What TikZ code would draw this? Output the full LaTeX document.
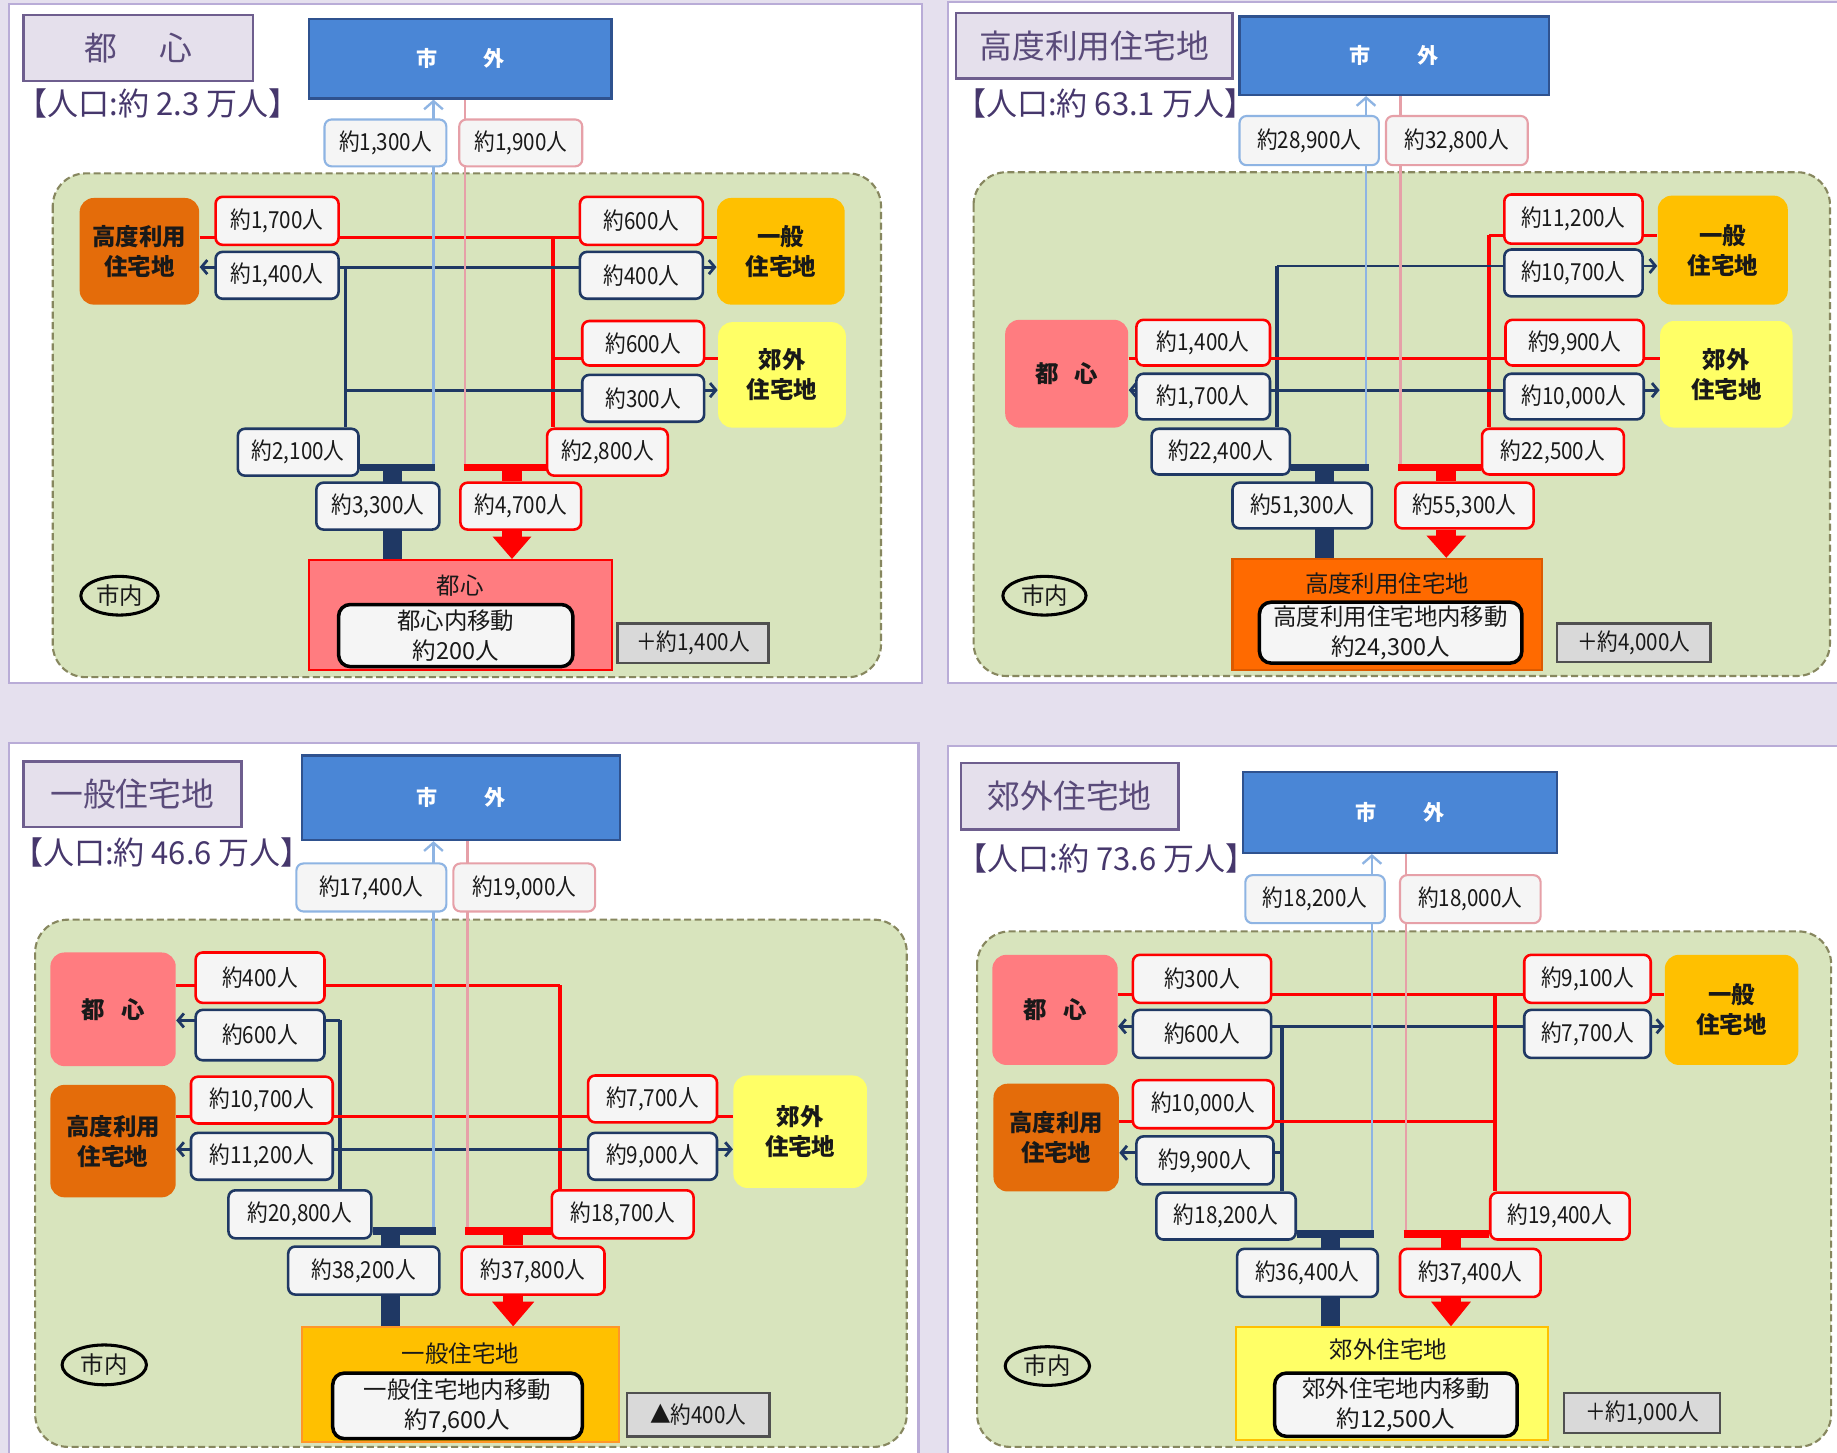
\documentclass[tikz,border=0pt]{standalone}
\usepackage{fontspec}
\setmainfont{Noto Sans CJK JP}
\newfontfamily\jpc{Noto Sans CJK JP}[FakeStretch=0.88]
\newfontfamily\jpp{Noto Sans CJK JP}[FakeStretch=0.98]
\usetikzlibrary{arrows.meta,shapes.geometric}
\pgfdeclarelayer{bg}\pgfdeclarelayer{ln}\pgfsetlayers{bg,ln,main}
\definecolor{bgl}{RGB}{229,224,238}
\definecolor{panelb}{RGB}{185,172,215}
\definecolor{grn}{RGB}{216,228,189}
\definecolor{grnb}{RGB}{135,135,95}
\definecolor{ttlfill}{RGB}{229,224,236}
\definecolor{ttlb}{RGB}{110,94,142}
\definecolor{ttltext}{RGB}{90,75,122}
\definecolor{poptext}{RGB}{70,55,108}
\definecolor{shigai}{RGB}{74,134,214}
\definecolor{shigaib}{RGB}{47,82,143}
\definecolor{lblue}{RGB}{142,180,227}
\definecolor{lpink}{RGB}{230,160,168}
\definecolor{lblfill}{RGB}{245,245,245}
\definecolor{myred}{RGB}{255,0,0}
\definecolor{navy}{RGB}{31,56,100}
\definecolor{toshin}{RGB}{255,124,128}
\definecolor{kodo}{RGB}{228,108,10}
\definecolor{ippan}{RGB}{255,192,0}
\definecolor{kogai}{RGB}{255,255,102}
\definecolor{bigkodo}{RGB}{255,106,0}
\definecolor{bigkodob}{RGB}{220,90,0}
\definecolor{bigippanb}{RGB}{255,150,40}
\definecolor{grayfill}{RGB}{217,217,217}
\definecolor{grayb}{RGB}{80,80,80}
\definecolor{txt}{RGB}{25,25,25}
\tikzset{
 panel/.style={fill=white, draw=panelb, line width=0.9pt},
 region/.style={fill=grn, draw=grnb, dash pattern=on 3pt off 1.5pt, line width=0.9pt, rounded corners=14pt},
 ttl/.style={fill=ttlfill, draw=ttlb, line width=1pt, text=ttltext, font=\fontsize{14}{16}\selectfont},
 pop/.style={text=poptext, font=\jpp\fontsize{13.5}{15}\selectfont, inner sep=0pt, anchor=west},
 shigaibox/.style={fill=shigai, draw=shigaib, line width=1pt, text=white, font=\bfseries\fontsize{9}{11}\selectfont},
 lbl/.style={fill=lblfill, line width=1.1pt, rounded corners=3pt, text=txt, font=\jpc\fontsize{10}{12}\selectfont},
 lr/.style={lbl, draw=myred},
 ln/.style={lbl, draw=navy},
 lb/.style={lbl, draw=lblue, line width=0.9pt},
 lp/.style={lbl, draw=lpink, line width=0.9pt},
 zone/.style={rounded corners=6pt, align=center, text=txt, font=\bfseries\fontsize{10}{12.8}\selectfont},
 bigttl/.style={text=txt, font=\fontsize{10}{12}\selectfont, inner sep=0pt},
 innerbox/.style={fill=lblfill, draw=black, line width=1.5pt, rounded corners=5pt, align=center, text=txt, font=\fontsize{10}{13}\selectfont},
 graybox/.style={fill=grayfill, draw=grayb, line width=1.1pt, text=txt, font=\jpc\fontsize{10}{12}\selectfont},
 shinai/.style={ellipse, draw=black, line width=1.3pt, text=txt, font=\fontsize{10}{12}\selectfont, inner sep=0pt},
 rh/.style={draw=myred, line width=1.2pt},
 rv/.style={draw=myred, line width=1.8pt},
 nh/.style={draw=navy, line width=1.2pt},
 nv/.style={draw=navy, line width=1.6pt},
 ntip/.style={arrows={-Straight Barb[length=2.5pt,width=6pt]}},
 nboth/.style={arrows={Straight Barb[length=2.5pt,width=6pt]-Straight Barb[length=2.5pt,width=6pt]}},
 bl/.style={draw=lblue, line width=1pt},
 btip/.style={arrows={-Straight Barb[length=3.5pt,width=8pt]}},
 pk/.style={draw=lpink, line width=1pt},
 nbar/.style={draw=navy, line width=3.3pt},
 rbar/.style={draw=myred, line width=3.3pt},
 nstem/.style={draw=navy, line width=8pt},
 rstem/.style={draw=myred, line width=8.5pt},
}
\newcommand\bx[7]{%
  \pgfmathsetmacro\bxw{(#5-(#3))*0.5}%
  \pgfmathsetmacro\bxh{(#6-(#4))*0.5}%
  \pgfmathsetmacro\bxx{(#3+#5)/2}%
  \pgfmathsetmacro\bxy{(#4+#6)/2}%
  \node[inner sep=0pt, #2, minimum width=\bxw pt, minimum height=\bxh pt] (#1) at (\bxx,\bxy) {#7};}
\begin{document}
\begin{tikzpicture}[x=0.5pt,y=-0.5pt]
\useasboundingbox (0,0) rectangle (1568,1240);
\begin{pgfonlayer}{bg}
\fill[bgl] (0,0) rectangle (1568,1240);
\draw[panel] (7.5,3.5) rectangle (787,583);
\draw[panel] (809.5,1.5) rectangle (1580,583);
\draw[panel] (7.5,634.5) rectangle (784,1250);
\draw[panel] (809.5,637) rectangle (1580,1250);
\draw[region] (45,148) rectangle (752,578);
\draw[region] (831,147) rectangle (1562,577);
\draw[region] (30,785) rectangle (774,1235);
\draw[region] (834,795) rectangle (1563,1235);
\end{pgfonlayer}

% ================= Panel A: 都心 =================
\bx{aT}{ttl}{20}{13}{216}{69}{都\hspace{1.3em}心}
\node[pop] (aP) at (14,88.5) {【人口:約 2.3 万人】};
\bx{aC}{shigaibox}{264}{16}{522}{84}{市\hspace{2.2em}外}
\bx{aL1}{lb}{277}{102}{381}{142}{約1,300人}
\bx{aL2}{lp}{392}{102}{497}{142}{約1,900人}
\bx{aZ1}{zone,fill=kodo}{68}{169}{170}{260}{高度利用\\住宅地}
\bx{aZ2}{zone,fill=ippan}{612}{169}{721}{260}{一般\\住宅地}
\bx{aZ3}{zone,fill=kogai}{613}{275}{722}{365}{郊外\\住宅地}
\bx{aR1}{lr}{184}{168}{289}{209}{約1,700人}
\bx{aN1}{ln}{184}{215}{289}{255}{約1,400人}
\bx{aR2}{lr}{495}{168}{600}{209}{約600人}
\bx{aN2}{ln}{495}{215}{600}{255}{約400人}
\bx{aR3}{lr}{497}{274}{601}{312}{約600人}
\bx{aN3}{ln}{497}{320}{601}{360}{約300人}
\bx{aN4}{ln}{203}{366}{306}{406}{約2,100人}
\bx{aR4}{lr}{467}{366}{570}{406}{約2,800人}
\bx{aN5}{ln}{270}{412}{375}{452}{約3,300人}
\bx{aR5}{lr}{393}{412}{496}{452}{約4,700人}
\bx{aB}{fill=toshin,draw=myred,line width=0.9pt}{264}{478}{522}{572}{}
\node[bigttl] (aBt) at (393,500) {都心};
\bx{aI}{innerbox}{289}{516}{489}{569}{都心内移動\\約200人}
\bx{aG}{graybox}{527}{532}{656}{566}{＋約1,400人}
\node[shinai, minimum width=33pt, minimum height=16.5pt] (aS) at (102,508.5) {市内};
\begin{pgfonlayer}{ln}
\draw[rh] (aZ1.east |- 0,203) -- (aZ2.west |- 0,203);
\coordinate (aJr) at (472,203);
\draw[rv] (aJr) -- (aJr |- aR4.north);
\draw[rh] (aJr |- 0,306) -- (aZ3.west |- 0,306);
\draw[nh,nboth] (aZ1.east |- 0,228) -- (aZ2.west |- 0,228);
\coordinate (aJn) at (295,228);
\draw[nv] (aJn) -- (aJn |- aN4.north);
\draw[nh,ntip] (aJn |- 0,333) -- (aZ3.west |- 0,333);
\coordinate (aTb) at (370,399);
\draw[bl,btip] (aTb) -- (aTb |- aC.south);
\coordinate (aTp) at (397,399);
\draw[pk] (aTp |- aC.south) -- (aTp);
\draw[nbar] (aN4.east |- aTb) -- ([xshift=0.6pt]aTb);
\draw[rbar] ([xshift=-0.6pt]aTp) -- (aR4.west |- aTp);
\coordinate (aSn) at (335,399);
\draw[nstem] (aSn) -- (aSn |- aB.north);
\coordinate (aSr) at (437,399);
\draw[rstem] (aSr) -- (aSr |- aR5.north);
\draw[rstem] (aSr |- aR5.south) -- ++(0,8);
\coordinate (aTip) at (aSr |- aB.north);
\fill[myred] (aTip) -- ++(-16.5,-19) -- ++(33,0) -- cycle;
\end{pgfonlayer}

% ================= Panel B: 高度利用住宅地 =================
\bx{bT}{ttl}{816}{11}{1052}{67}{高度利用住宅地}
\node[pop] (bP) at (815,88.5) {【人口:約 63.1 万人】};
\bx{bC}{shigaibox}{1058}{14}{1322}{81}{市\hspace{2.2em}外}
\bx{bL1}{lb}{1058}{99}{1177}{141}{約28,900人}
\bx{bL2}{lp}{1183}{99}{1304}{141}{約32,800人}
\bx{bZ1}{zone,fill=toshin}{858}{273}{963}{365}{都\hspace{0.7em}心}
\bx{bZ2}{zone,fill=ippan}{1415}{167}{1526}{260}{一般\\住宅地}
\bx{bZ3}{zone,fill=kogai}{1417}{274}{1530}{365}{郊外\\住宅地}
\bx{bR1}{lr}{1284}{166}{1402}{208}{約11,200人}
\bx{bN1}{ln}{1284}{213}{1402}{253}{約10,700人}
\bx{bR2}{lr}{970}{273}{1084}{312}{約1,400人}
\bx{bN2}{ln}{970}{319}{1084}{358}{約1,700人}
\bx{bR3}{lr}{1285}{273}{1403}{312}{約9,900人}
\bx{bN3}{ln}{1284}{319}{1403}{358}{約10,000人}
\bx{bN4}{ln}{983}{366}{1101}{405}{約22,400人}
\bx{bR4}{lr}{1265}{366}{1386}{405}{約22,500人}
\bx{bN5}{ln}{1052}{412}{1171}{451}{約51,300人}
\bx{bR5}{lr}{1191}{412}{1309}{451}{約55,300人}
\bx{bB}{fill=bigkodo,draw=bigkodob,line width=0.9pt}{1052}{477}{1316}{572}{}
\node[bigttl] (bBt) at (1184,498) {高度利用住宅地};
\bx{bI}{innerbox}{1075}{514}{1299}{566}{高度利用住宅地内移動\\約24,300人}
\bx{bG}{graybox}{1329}{532}{1460}{565}{＋約4,000人}
\node[shinai, minimum width=35.5pt, minimum height=16.5pt] (bS) at (891.5,508.5) {市内};
\begin{pgfonlayer}{ln}
\coordinate (bJr) at (1271,201);
\draw[rv] (bJr) -- (bJr |- bR4.north);
\draw[rh] (bJr) -- (bZ2.west |- bJr);
\coordinate (bJn) at (1090,227);
\draw[nv] (bJn) -- (bJn |- bN4.north);
\draw[nh,ntip] (bJn) -- (bZ2.west |- bJn);
\draw[rh] (bZ1.east |- 0,306) -- (bZ3.west |- 0,306);
\draw[nh,nboth] (bZ1.east |- 0,333) -- (bZ3.west |- 0,333);
\coordinate (bTb) at (1166,399);
\draw[bl,btip] (bTb) -- (bTb |- bC.south);
\coordinate (bTp) at (1195.5,399);
\draw[pk] (bTp |- bC.south) -- (bTp);
\draw[nbar] (bN4.east |- bTb) -- ([xshift=1.2pt]bTb);
\draw[rbar] ([xshift=-1pt]bTp) -- (bR4.west |- bTp);
\coordinate (bSn) at (1130.5,399);
\draw[nstem] (bSn) -- (bSn |- bB.north);
\coordinate (bSr) at (1234.5,399);
\draw[rstem] (bSr) -- (bSr |- bR5.north);
\draw[rstem] (bSr |- bR5.south) -- ++(0,8);
\coordinate (bTip) at (bSr |- bB.north);
\fill[myred] (bTip) -- ++(-17,-19) -- ++(34,0) -- cycle;
\end{pgfonlayer}

% ================= Panel C: 一般住宅地 =================
\bx{cT}{ttl}{20}{650}{206}{706}{一般住宅地}
\node[pop] (cP) at (10,728) {【人口:約 46.6 万人】};
\bx{cC}{shigaibox}{258}{645}{529}{717}{市\hspace{2.2em}外}
\bx{cL1}{lb}{253}{737}{381}{778}{約17,400人}
\bx{cL2}{lp}{387}{737}{508}{778}{約19,000人}
\bx{cZ1}{zone,fill=toshin}{43}{813}{150}{910}{都\hspace{0.7em}心}
\bx{cZ2}{zone,fill=kodo}{43}{926}{150}{1022}{高度利用\\住宅地}
\bx{cZ3}{zone,fill=kogai}{626}{918}{740}{1014}{郊外\\住宅地}
\bx{cR1}{lr}{167}{813}{277}{856}{約400人}
\bx{cN1}{ln}{167}{862}{277}{905}{約600人}
\bx{cR2}{lr}{163}{919}{284}{959}{約10,700人}
\bx{cN2}{ln}{163}{967}{284}{1007}{約11,200人}
\bx{cR3}{lr}{502}{918}{612}{958}{約7,700人}
\bx{cN3}{ln}{502}{967}{612}{1007}{約9,000人}
\bx{cN4}{ln}{195}{1016}{317}{1057}{約20,800人}
\bx{cR4}{lr}{471}{1016}{592}{1057}{約18,700人}
\bx{cN5}{ln}{246}{1064}{375}{1105}{約38,200人}
\bx{cR5}{lr}{394}{1064}{516}{1105}{約37,800人}
\bx{cB}{fill=ippan,draw=bigippanb,line width=0.9pt}{258}{1133}{528}{1231}{}
\node[bigttl] (cBt) at (393,1155) {一般住宅地};
\bx{cI}{innerbox}{284}{1172}{497}{1228}{一般住宅地内移動\\約7,600人}
\bx{cG}{graybox}{535}{1189}{657}{1226}{▲約400人}
\node[shinai, minimum width=36pt, minimum height=17pt] (cS) at (89,1165) {市内};
\begin{pgfonlayer}{ln}
\coordinate (cJr) at (478,841);
\draw[rh] (cZ1.east |- cJr) -- (cJr);
\draw[rv] (cJr) -- (cJr |- cR4.north);
\coordinate (cJn) at (290,871);
\draw[nh,ntip] (cJn) -- (cZ1.east |- cJn);
\draw[nv] (cJn) -- (cJn |- cN4.north);
\draw[rh] (cZ2.east |- 0,953) -- (cZ3.west |- 0,953);
\draw[nh,nboth] (cZ2.east |- 0,981) -- (cZ3.west |- 0,981);
\coordinate (cTb) at (370,1051);
\draw[bl,btip] (cTb) -- (cTb |- cC.south);
\coordinate (cTp) at (399,1051);
\draw[pk] (cTp |- cC.south) -- (cTp);
\draw[nbar] (cN4.east |- cTb) -- ([xshift=1pt]cTb);
\draw[rbar] ([xshift=-1pt]cTp) -- (cR4.west |- cTp);
\coordinate (cSn) at (333.5,1051);
\draw[nstem] (cSn) -- (cSn |- cB.north);
\coordinate (cSr) at (438,1051);
\draw[rstem] (cSr) -- (cSr |- cR5.north);
\draw[rstem] (cSr |- cR5.south) -- ++(0,8);
\coordinate (cTip) at (cSr |- cB.north);
\fill[myred] (cTip) -- ++(-18,-21) -- ++(36,0) -- cycle;
\end{pgfonlayer}

% ================= Panel D: 郊外住宅地 =================
\bx{dT}{ttl}{820}{651}{1006}{708}{郊外住宅地}
\node[pop] (dP) at (816,733) {【人口:約 73.6 万人】};
\bx{dC}{shigaibox}{1061}{659}{1329}{728}{市\hspace{2.2em}外}
\bx{dL1}{lb}{1063}{747}{1182}{788}{約18,200人}
\bx{dL2}{lp}{1195}{747}{1315}{788}{約18,000人}
\bx{dZ1}{zone,fill=toshin}{847}{815}{954}{909}{都\hspace{0.7em}心}
\bx{dZ2}{zone,fill=kodo}{848}{925}{955}{1017}{高度利用\\住宅地}
\bx{dZ3}{zone,fill=ippan}{1421}{815}{1535}{909}{一般\\住宅地}
\bx{dR1}{lr}{967}{815}{1085}{856}{約300人}
\bx{dN1}{ln}{967}{862}{1085}{903}{約600人}
\bx{dR2}{lr}{967}{922}{1087}{963}{約10,000人}
\bx{dN2}{ln}{970}{970}{1087}{1011}{約9,900人}
\bx{dR3}{lr}{1301}{815}{1409}{856}{約9,100人}
\bx{dN3}{ln}{1301}{862}{1409}{903}{約7,700人}
\bx{dN4}{ln}{987}{1018}{1106}{1058}{約18,200人}
\bx{dR4}{lr}{1272}{1018}{1391}{1058}{約19,400人}
\bx{dN5}{ln}{1056}{1066}{1176}{1107}{約36,400人}
\bx{dR5}{lr}{1195}{1066}{1315}{1107}{約37,400人}
\bx{dB}{fill=kogai,draw=ippan,line width=0.9pt}{1055}{1133}{1321}{1229}{}
\node[bigttl] (dBt) at (1185,1152) {郊外住宅地};
\bx{dI}{innerbox}{1088}{1172}{1295}{1226}{郊外住宅地内移動\\約12,500人}
\bx{dG}{graybox}{1335}{1189}{1468}{1223}{＋約1,000人}
\node[shinai, minimum width=36pt, minimum height=16.5pt] (dS) at (894,1166) {市内};
\begin{pgfonlayer}{ln}
\draw[rh] (dZ1.east |- 0,849) -- (dZ3.west |- 0,849);
\draw[nh,nboth] (dZ1.east |- 0,876) -- (dZ3.west |- 0,876);
\coordinate (dJr) at (1276,849);
\draw[rv] (dJr) -- (dJr |- dR4.north);
\coordinate (dJn) at (1094,876);
\draw[nv] (dJn) -- (dJn |- dN4.north);
\draw[rh] (dZ2.east |- 0,957) -- (dJr |- 0,957);
\draw[nh,ntip] (dJn |- 0,984) -- (dZ2.east |- 0,984);
\coordinate (dTb) at (1171,1053);
\draw[bl,btip] (dTb) -- (dTb |- dC.south);
\coordinate (dTp) at (1200,1053);
\draw[pk] (dTp |- dC.south) -- (dTp);
\draw[nbar] (dN4.east |- dTb) -- ([xshift=1pt]dTb);
\draw[rbar] ([xshift=-1pt]dTp) -- (dR4.west |- dTp);
\coordinate (dSn) at (1135.5,1053);
\draw[nstem] (dSn) -- (dSn |- dB.north);
\coordinate (dSr) at (1238.5,1053);
\draw[rstem] (dSr) -- (dSr |- dR5.north);
\draw[rstem] (dSr |- dR5.south) -- ++(0,8);
\coordinate (dTip) at (dSr |- dB.north);
\fill[myred] (dTip) -- ++(-17,-21) -- ++(34,0) -- cycle;
\end{pgfonlayer}
\end{tikzpicture}
\end{document}
